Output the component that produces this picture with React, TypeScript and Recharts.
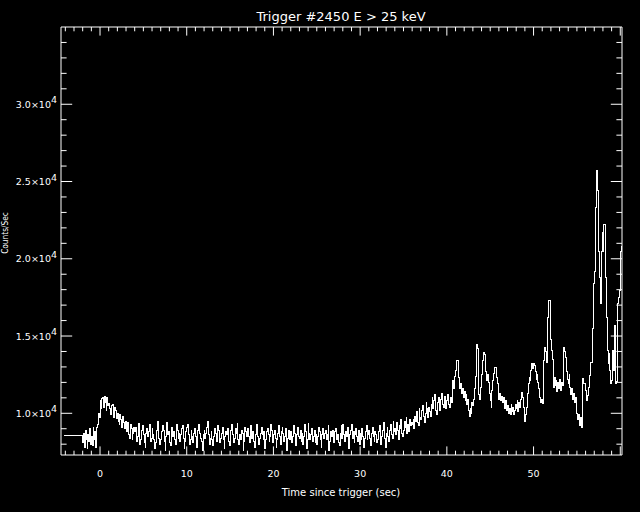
import React from "react";
import { LineChart, Line, XAxis, YAxis } from "recharts";

// pre-trigger level (one long bin), then 0.1 s bins from -2.0 s
const preTriggerTime = -4.1;
const preTriggerRate = 8580;
const binStart = -2.0;
const binWidth = 0.1;

// counts/sec per bin, one row = one second
const rates = [
  8100, 8700, 7800, 8900, 8300, 7750, 8600, 8200, 9000, 8000,
  8500, 7900, 9100, 8300, 8800, 7800, 9050, 9300, 10000, 9700,
  10800, 10300, 10950, 11050, 10400, 11100, 10700, 10200, 11000, 10500,
  10650, 10300, 9900, 10500, 10600, 10100, 9700, 10400, 10200, 9650,
  10000, 9500, 9300, 9900, 9600, 9100, 9800, 9400, 9000, 9500,
  9200, 8800, 9400, 8600, 8400, 9300, 9000, 8300, 8700, 9100,
  8800, 9100, 8200, 8500, 9350, 8700, 8000, 8300, 8900, 9200,
  8600, 8100, 7800, 8700, 9000, 8500, 8800, 9300, 8200, 8400,
  9000, 8600, 8300, 7700, 8100, 8900, 9500, 8700, 8400, 8000,
  8300, 8800, 9200, 8900, 8200, 7600, 8500, 9400, 8600, 8800,
  8100, 7900, 8700, 9100, 8500, 8800, 8300, 8000, 9300, 8900,
  8400, 8700, 8200, 8600, 9000, 9200, 8400, 7700, 8200, 8800,
  9100, 9250, 8600, 8000, 8300, 8900, 8500, 8100, 8700, 9000,
  8500, 7800, 8300, 8900, 9300, 8700, 8400, 8200, 7600, 8600,
  8900, 8400, 8700, 9100, 9450, 8600, 8000, 8400, 8800, 8300,
  7900, 8500, 9000, 8700, 8200, 8600, 9200, 8900, 8100, 8400,
  8700, 9100, 8300, 7700, 8500, 8800, 8600, 9000, 8200, 7900,
  8500, 8900, 9300, 8600, 8100, 8400, 9000, 8700, 9350, 8300,
  8000, 8600, 8300, 8900, 8700, 7600, 8200, 9100, 8800, 8500,
  9000, 8500, 8100, 8700, 9200, 8400, 8800, 8200, 7800, 8600,
  8900, 9300, 8500, 8000, 8400, 8700, 9100, 8600, 8300, 8800,
  7700, 8300, 8800, 9000, 8600, 8200, 8500, 9300, 8900, 8100,
  8600, 8900, 8400, 7800, 8300, 8700, 9200, 8500, 8000, 8800,
  9100, 8700, 8200, 8500, 9000, 7600, 8400, 8900, 8600, 8300,
  8800, 8100, 8500, 9200, 8700, 8300, 7900, 8600, 9100, 8500,
  8400, 8900, 8200, 8700, 8000, 8500, 9300, 8800, 7700, 8300,
  9350, 8700, 8300, 8600, 9000, 8200, 8500, 8900, 8100, 8600,
  8000, 8500, 9100, 8800, 8300, 7800, 8600, 9000, 8400, 8700,
  8900, 8300, 8600, 9200, 7600, 8200, 8800, 8500, 8900, 8100,
  8500, 8800, 9000, 8300, 8600, 8100, 7900, 8700, 9200, 8400,
  9300, 8600, 8200, 8800, 8500, 9100, 8300, 7700, 8600, 8900,
  9250, 8400, 8800, 8100, 8600, 9000, 8500, 8200, 8900, 8000,
  8700, 8300, 9000, 8500, 7800, 8400, 8800, 9200, 8300, 8600,
  8900, 8400, 7900, 8700, 9100, 8500, 8200, 8800, 8600, 8100,
  8300, 8800, 9200, 8600, 8000, 8500, 8900, 9400, 8400, 7800,
  8700, 9100, 8500, 8200, 8900, 9300, 8600, 8400, 9500, 8800,
  9000, 8600, 9400, 8900, 8300, 9200, 9000, 9600, 8700, 8500,
  8900, 9500, 9100, 9700, 8700, 9300, 8800, 9600, 9200, 9400,
  9300, 9600, 9000, 9800, 9500, 10100, 9400, 9200, 10300, 9700,
  9600, 10200, 10500, 9800, 9400, 10000, 10700, 10300, 9700, 10400,
  10100, 9800, 10600, 11000, 10300, 10800, 11200, 10200, 9900, 10700,
  11000, 10500, 10200, 10900, 11300, 10600, 10400, 11100, 10700, 10300,
  10800, 11200, 10600, 10400, 11000, 10700, 11300, 12100, 11600, 12400,
  12800, 13400, 13400, 12900, 12300, 11600, 11900, 11300, 11600, 11000,
  11400, 10800, 11200, 10600, 10900, 10200, 9800, 10300, 10000, 10700,
  10500, 10900, 11600, 12400, 14450, 14200, 12100, 11200, 10900, 11700,
  12500, 13400, 13950, 13800, 13200, 12700, 12100, 12500, 12000, 11300,
  10800, 10400, 11500, 12100, 12600, 12950, 12950, 12300, 11900, 11300,
  10900, 11300, 10800, 11100, 10700, 11000, 10500, 10300, 10800, 10200,
  10500, 10000, 10300, 9900, 10600, 10100, 10400, 9950, 10200, 10600,
  10300, 10800, 10100, 10700, 10400, 10900, 11350, 11000, 10400, 9600,
  9500, 9900, 10400, 11300, 11900, 12300, 12100, 12800, 13200, 12900,
  13200, 13100, 12700, 12200, 12500, 12000, 11600, 11000, 10700, 10900,
  10650, 11300, 13400, 14250, 14000, 13300, 16200, 17300, 17300, 15350,
  14800, 14050, 13500, 11700, 12300, 11800, 12100, 11400, 12000, 11600,
  12200, 11500, 12000, 11800, 13600, 14250, 14000, 13600, 12700, 12200,
  11900, 12500, 11700, 11200, 11600, 10900, 11300, 10700, 11000, 10400,
  10000, 9600, 9900, 9200, 9750, 9100, 11000, 12250, 11900, 11900,
  11500, 10850, 11150, 11700, 12100, 12450, 13300, 13300, 15500, 18400,
  19200, 23300, 23300, 25700, 24450, 20500, 18800, 17100, 20500, 21700,
  20500, 22200, 22200, 18800, 16200, 14050, 13200, 13850, 12800, 11950,
  12150, 14050, 12800, 15700, 14050, 11950, 12050, 17100, 17500, 17950,
  20500, 20800,
];

const timeTicks = [
  -4, -3, -2, -1, 0, 1, 2, 3, 4, 5, 6, 7, 8, 9, 10, 11, 12, 13, 14, 15, 16,
  17, 18, 19, 20, 21, 22, 23, 24, 25, 26, 27, 28, 29, 30, 31, 32, 33, 34, 35,
  36, 37, 38, 39, 40, 41, 42, 43, 44, 45, 46, 47, 48, 49, 50, 51, 52, 53, 54,
  55, 56, 57, 58, 59, 60,
];
const timeLabels = [0, 10, 20, 30, 40, 50, 60];

const rateTicks = [
  8000, 9000, 10000, 11000, 12000, 13000, 14000, 15000, 16000, 17000, 18000,
  19000, 20000, 21000, 22000, 23000, 24000, 25000, 26000, 27000, 28000, 29000,
  30000, 31000, 32000, 33000, 34000,
];
const rateLabels = [10000, 15000, 20000, 25000, 30000];

const data = [
  { t: preTriggerTime, rate: preTriggerRate },
  ...rates.map((rate, i) => ({ t: +(binStart + i * binWidth).toFixed(2), rate })),
];

const FONT = "DejaVu Sans";
const white = "#ffffff";

const BottomTick = ({ x, y, payload }: any) => {
  const major = timeLabels.includes(payload.value);
  return (
    <g>
      <line x1={x} y1={y} x2={x} y2={y - (major ? 8.6 : 4.3)} stroke={white} />
      {major && payload.value < 60 && (
        <text x={x} y={y + 22} textAnchor="middle" fill={white} fontSize={9.5} fontFamily={FONT}>
          {payload.value}
        </text>
      )}
    </g>
  );
};

const TopTick = ({ x, y, payload }: any) => {
  const major = timeLabels.includes(payload.value);
  return <line x1={x} y1={y} x2={x} y2={y + (major ? 8.6 : 4.3)} stroke={white} />;
};

const LeftTick = ({ x, y, payload }: any) => {
  const major = rateLabels.includes(payload.value);
  const mantissa = (payload.value / 10000).toFixed(1);
  return (
    <g>
      <line x1={x} y1={y} x2={x + (major ? 11.2 : 5.6)} y2={y} stroke={white} />
      {major && (
        <text x={x - 4} y={y + 3.5} textAnchor="end" fill={white} fontSize={9.5} fontFamily={FONT}>
          {mantissa}×10<tspan dy={-4.5}>4</tspan>
        </text>
      )}
    </g>
  );
};

const RightTick = ({ x, y, payload }: any) => {
  const major = rateLabels.includes(payload.value);
  return <line x1={x} y1={y} x2={x - (major ? 11.2 : 5.6)} y2={y} stroke={white} />;
};

export default function App() {
  const xDomain = [-4.5, 60.2];
  const yDomain = [7300, 35000];
  return (
    <div
      style={{
        position: "absolute",
        left: 0,
        top: 0,
        width: 640,
        height: 512,
        background: "#000",
        fontFamily: FONT,
        color: white,
        overflow: "hidden",
      }}
    >
      <LineChart width={640} height={512} data={data} margin={{ top: 26, right: 17, bottom: 0, left: 0 }}>
        <XAxis
          xAxisId="bottom"
          dataKey="t"
          type="number"
          domain={xDomain}
          allowDataOverflow
          ticks={timeTicks}
          interval={0}
          height={57}
          tickSize={0}
          tickMargin={0}
          tickLine={false}
          axisLine={{ stroke: white }}
          tick={<BottomTick />}
        />
        <XAxis
          xAxisId="top"
          orientation="top"
          dataKey="t"
          type="number"
          domain={xDomain}
          allowDataOverflow
          ticks={timeTicks}
          interval={0}
          height={1}
          tickSize={0}
          tickMargin={0}
          tickLine={false}
          axisLine={{ stroke: white }}
          tick={<TopTick />}
        />
        <YAxis
          yAxisId="left"
          type="number"
          domain={yDomain}
          allowDataOverflow
          ticks={rateTicks}
          interval={0}
          width={61}
          tickSize={0}
          tickMargin={0}
          tickLine={false}
          axisLine={{ stroke: white }}
          tick={<LeftTick />}
        />
        <YAxis
          yAxisId="right"
          orientation="right"
          type="number"
          domain={yDomain}
          allowDataOverflow
          ticks={rateTicks}
          interval={0}
          width={1}
          tickSize={0}
          tickMargin={0}
          tickLine={false}
          axisLine={{ stroke: white }}
          tick={<RightTick />}
        />
        {/* invisible twin so the top/right frame axes are drawn */}
        <Line
          xAxisId="top"
          yAxisId="right"
          dataKey="rate"
          type="stepAfter"
          stroke="none"
          dot={false}
          activeDot={false}
          isAnimationActive={false}
        />
        <Line
          xAxisId="bottom"
          yAxisId="left"
          dataKey="rate"
          type="stepAfter"
          stroke={white}
          strokeWidth={1}
          shapeRendering="crispEdges"
          dot={false}
          isAnimationActive={false}
        />
      </LineChart>
      <div
        style={{
          position: "absolute",
          left: 341,
          top: 16,
          transform: "translate(-50%, -50%)",
          fontSize: 13,
          whiteSpace: "nowrap",
        }}
      >
        Trigger #2450 E &gt; 25 keV
      </div>
      <div
        style={{
          position: "absolute",
          left: 341,
          top: 492,
          transform: "translate(-50%, -50%)",
          fontSize: 10,
          whiteSpace: "nowrap",
        }}
      >
        Time since trigger (sec)
      </div>
      <div
        style={{
          position: "absolute",
          left: 4,
          top: 233,
          transform: "translate(-50%, -50%) rotate(-90deg) scaleX(0.78)",
          fontSize: 9.5,
          whiteSpace: "nowrap",
        }}
      >
        Counts/Sec
      </div>
    </div>
  );
}
